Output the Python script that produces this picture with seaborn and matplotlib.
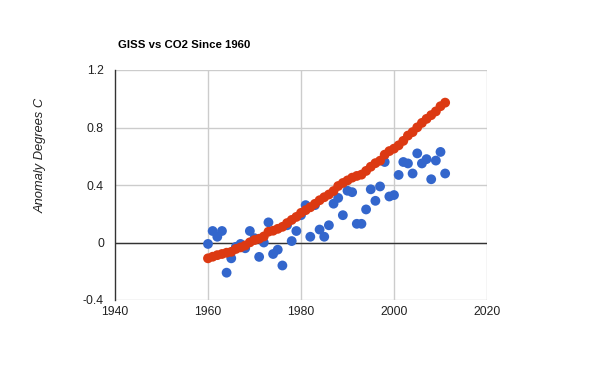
import matplotlib
matplotlib.use("Agg")
import matplotlib.pyplot as plt
import seaborn as sns
import pandas as pd

years = list(range(1960, 2012))
giss = [-0.01, 0.08, 0.04, 0.08, -0.21, -0.11, -0.03, -0.01, -0.04, 0.08,
        0.03, -0.10, 0.00, 0.14, -0.08, -0.05, -0.16, 0.12, 0.01, 0.08,
        0.19, 0.26, 0.04, 0.26, 0.09, 0.04, 0.12, 0.27, 0.31, 0.19,
        0.36, 0.35, 0.13, 0.13, 0.23, 0.37, 0.29, 0.39, 0.56, 0.32,
        0.33, 0.47, 0.56, 0.55, 0.48, 0.62, 0.55, 0.58, 0.44, 0.57,
        0.63, 0.48]
co2_scaled = [-0.110, -0.099, -0.088, -0.080, -0.071, -0.065, -0.045, -0.034, -0.021, 0.001,
              0.017, 0.026, 0.042, 0.075, 0.082, 0.095, 0.109, 0.135, 0.157, 0.178,
              0.206, 0.225, 0.245, 0.269, 0.294, 0.315, 0.334, 0.358, 0.393, 0.414,
              0.432, 0.451, 0.463, 0.472, 0.498, 0.527, 0.552, 0.569, 0.611, 0.636,
              0.653, 0.676, 0.707, 0.744, 0.768, 0.801, 0.832, 0.860, 0.886, 0.912,
              0.948, 0.973]
x_ticks = [1940, 1960, 1980, 2000, 2020]
y_ticks = [-0.4, 0, 0.4, 0.8, 1.2]
y_tick_labels = ["-0.4", "0", "0.4", "0.8", "1.2"]
title = "GISS vs CO2 Since 1960"
y_label = "Anomaly Degrees C"

df = pd.DataFrame({"year": years, "giss": giss, "co2": co2_scaled})

sns.set_theme(style="white")
plt.rcParams["font.family"] = ["Liberation Sans", "DejaVu Sans"]

fig = plt.figure(figsize=(6, 3.71), dpi=100)
ax = fig.add_axes([115/600, 1-300/371, 372/600, 230/371])

sns.scatterplot(data=df, x="year", y="giss", ax=ax, color="#3366cc", s=50,
                edgecolor="none", zorder=3)
sns.scatterplot(data=df, x="year", y="co2", ax=ax, color="#dc3912", s=50,
                edgecolor="none", zorder=4)

ax.set_xlim(1940, 2020)
ax.set_ylim(-0.4, 1.2)
ax.set_xticks(x_ticks)
ax.set_xticklabels([str(t) for t in x_ticks])
ax.set_yticks(y_ticks)
ax.set_yticklabels(y_tick_labels)
for t in x_ticks[1:]:
    ax.axvline(t, color="#cccccc", lw=1, zorder=1)
for t in y_ticks:
    ax.axhline(t, color="#cccccc", lw=1, zorder=1)
ax.axhline(0, color="#333333", lw=1, zorder=2)
for s in ["top", "right", "bottom"]:
    ax.spines[s].set_visible(False)
ax.spines["left"].set_color("#333333")
ax.spines["left"].set_linewidth(1)
ax.tick_params(axis="both", length=0, labelsize=8.8, colors="#222222")
ax.tick_params(axis="y", pad=8)
ax.tick_params(axis="x", pad=4)
ax.set_xlabel("")
ax.set_ylabel(y_label, fontsize=9.3, style="italic", color="#222222")
ax.yaxis.set_label_coords(-0.183, 0.63)
fig.text(118/600, 1-45/371, title, fontsize=8.2, fontweight="bold",
         color="#000000", va="center", ha="left")

fig.savefig("out.png", dpi=100)
